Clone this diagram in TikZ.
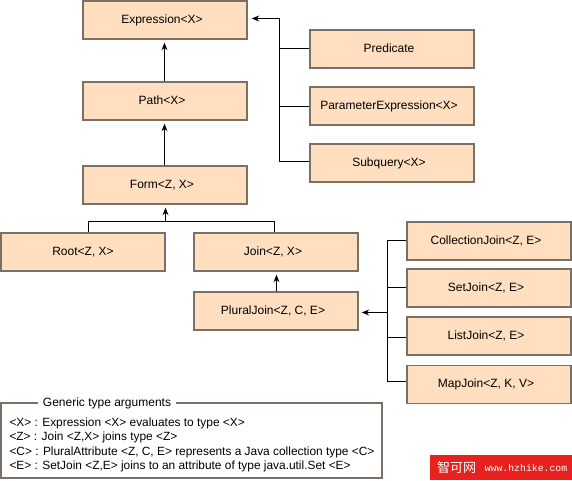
\documentclass[tikz,border=0pt]{standalone}
\usepackage{fontspec}
\setmainfont{Liberation Sans}
\newfontfamily\cjkfont{Noto Sans CJK SC}
\newfontfamily\markfont{Liberation Mono}
\usetikzlibrary{arrows.meta}
\definecolor{boxfill}{HTML}{FFDFBF}
\definecolor{boxline}{HTML}{7A7065}
\definecolor{markred}{HTML}{E6211E}

\begin{document}
\begin{tikzpicture}[x=1pt,y=-1pt,line width=1pt,>={Stealth[length=7.5pt,width=6pt]},
  plainbox/.style={draw=boxline,line width=1.4pt,fill=boxfill,minimum width=164pt,minimum height=38pt,inner sep=0pt,font=\fontsize{12}{14}\selectfont,text height=8pt,text depth=2pt},
  typebox/.style={plainbox,execute at end node=\hspace*{6pt}},
  gap/.style={->,shorten >=3pt}]
\useasboundingbox (0,0) rectangle (572,480);
% ---------- left column ----------
\node[typebox] (expr) at (165,20) {Expression<X>};
\node[typebox] (path) at (165,101) {Path<X>};
\node[typebox] (form) at (165,185) {Form<Z, X>};
\node[plainbox] (root) at (83,252) {Root<Z, X>};
\node[typebox] (join) at (276,252) {Join<Z, X>};
\node[typebox] (plural) at (276,311) {PluralJoin<Z, C, E>};
% ---------- upper right ----------
\node[typebox] (pred) at (392,49) {Predicate};
\node[typebox] (param) at (392,106) {ParameterExpression<X>};
\node[typebox] (subq) at (392,163) {Subquery<X>};
% ---------- lower right ----------
\node[typebox] (coll) at (489,241) {CollectionJoin<Z, E>};
\node[typebox] (setj) at (489,288) {SetJoin<Z, E>};
\node[typebox] (listj) at (489,336) {ListJoin<Z, E>};
\node[typebox] (mapj) at (489,384.5) {MapJoin<Z, K, V>};
% inheritance arrows
\draw[gap] ([xshift=-.5pt]path.north) -- ([xshift=-.5pt]expr.south);
\draw[gap] ([xshift=-.5pt]form.north) -- ([xshift=-.5pt]path.south);
\draw[gap] ([xshift=.5pt]plural.north) -- ([xshift=.5pt]join.south);
% root and join meet below form
\coordinate (formjoint) at (165.5,221.5);
\draw[gap] (formjoint) -- (formjoint |- form.south);
\draw ([xshift=5.5pt]root.north) |- (formjoint);
\draw ([xshift=-1.5pt]join.north) |- (formjoint);
% bus to expression
\coordinate (exprbus) at (279.5,18.5);
\draw[->,shorten >=4pt] (exprbus) -- (exprbus -| expr.east);
\draw (exprbus) |- ([yshift=1.5pt]subq.west);
\draw ([yshift=.5pt]pred.west) -- ([yshift=.5pt]pred.west -| exprbus);
\draw ([yshift=-.5pt]param.west) -- ([yshift=-.5pt]param.west -| exprbus);
% bus to plural join
\coordinate (pluralbus) at (387.5,312.5);
\draw[->,shorten >=3pt] (pluralbus) -- (pluralbus -| plural.east);
\draw ([yshift=.5pt]coll.west) -| (pluralbus);
\draw ([yshift=.5pt]setj.west) -- ([yshift=.5pt]setj.west -| pluralbus);
\draw ([yshift=-1.5pt]listj.west) -- ([yshift=-1.5pt]listj.west -| pluralbus);
\draw ([yshift=3pt]mapj.west) -| (pluralbus);
% ---------- legend ----------
\node[draw=boxline,line width=1.4pt,minimum width=381pt,minimum height=75pt,inner sep=0pt] (legend) at (191.5,440.5) {};
\node[fill=white,inner sep=0pt,minimum width=138pt,minimum height=12pt,font=\fontsize{12}{14}\selectfont] (legendtitle) at (107,403) {Generic type arguments};
\node[anchor=north west,inner sep=0pt,align=left,font=\fontsize{11.9}{14.5}\selectfont] (legendtext) at (9,417) {<X> : Expression <X> evaluates to type <X>\\
<Z> : Join <Z,X> joins type <Z>\\
<C> : PluralAttribute <Z, C, E> represents a Java collection type <C>\\
<E> : SetJoin <Z,E> joins to an attribute of type java.util.Set <E>};
% ---------- corner mark ----------
\node[fill=markred,minimum width=142pt,minimum height=25pt,inner sep=0pt] (mark) at (501,467.5) {};
\node[text=white,inner sep=0pt,font=\cjkfont\fontsize{13}{13}\selectfont] (markcn) at (456.5,468) {智可网};
\node[text=white,inner sep=0pt,font=\markfont\fontsize{9.8}{12}\selectfont] (markurl) at (526,468) {www.hzhike.com};
\end{tikzpicture}
\end{document}
